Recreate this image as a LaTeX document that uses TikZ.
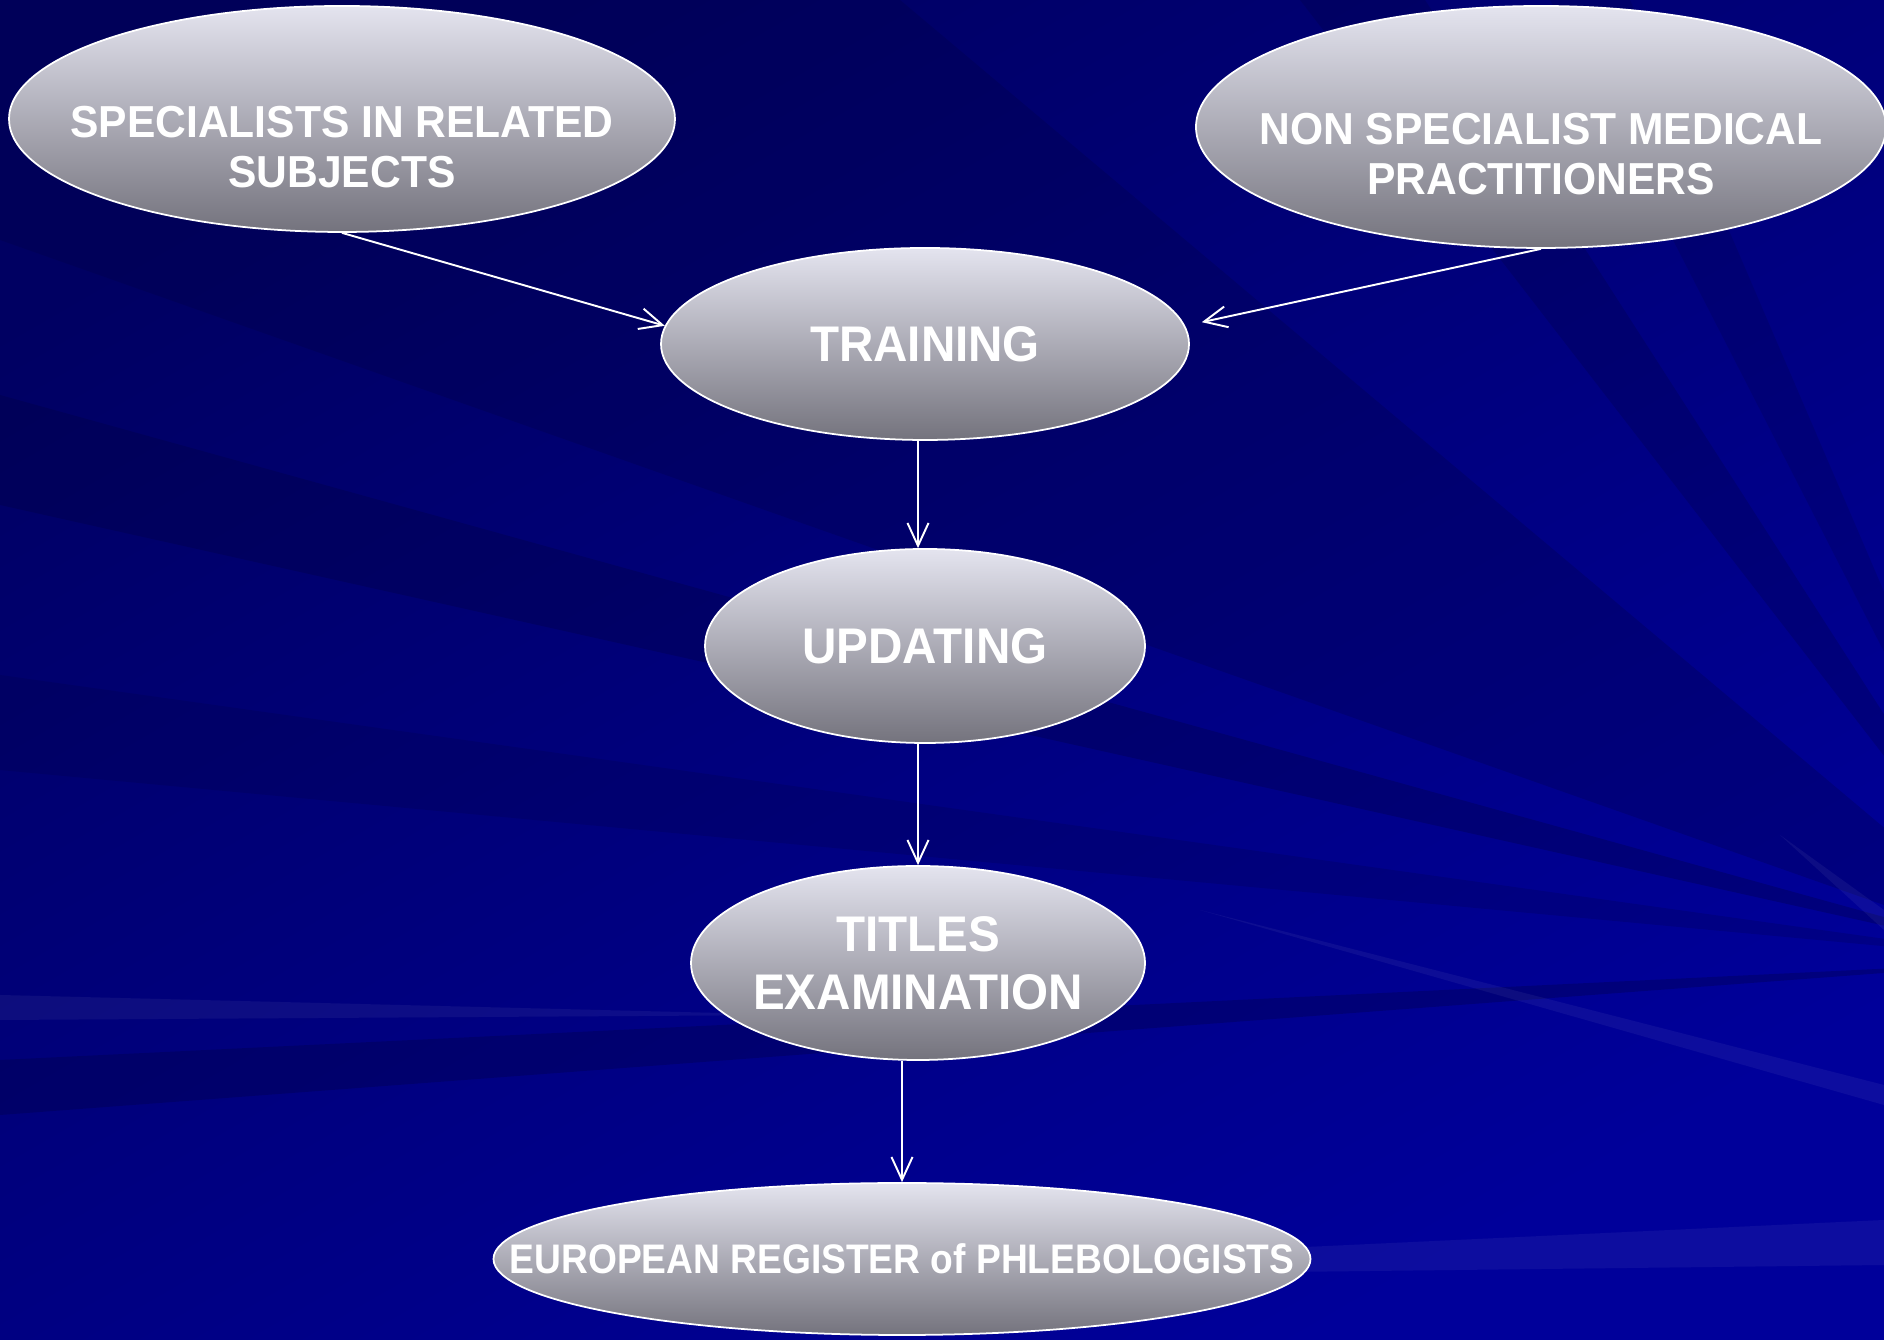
\documentclass[tikz,border=0pt]{standalone}
\usepackage{fontspec}
\setmainfont{Liberation Sans}[FakeStretch=0.95]
\newfontfamily\narrowfont{Liberation Sans}[FakeStretch=0.9]
\usetikzlibrary{shapes.geometric, arrows.meta}

\definecolor{bgdark}{HTML}{000062}
\definecolor{bglight}{HTML}{00009A}
\definecolor{bgnavy}{HTML}{000040}
\definecolor{ovaltop}{HTML}{E4E4EF}
\definecolor{ovalbot}{HTML}{74737D}

\tikzstyle{oval} = [ellipse, draw=white, line width=1pt, top color=ovaltop,
bottom color=ovalbot, text=white, align=center, inner xsep=-5cm, inner ysep=0pt]
\tikzstyle{bigtext} = [font=\fontsize{28.5}{33}\selectfont\bfseries]
\tikzstyle{midtext} = [font=\fontsize{25.5}{28.5}\selectfont\bfseries]
\tikzstyle{smalltext} = [font=\narrowfont\fontsize{23.5}{27}\selectfont\bfseries]
\tikzstyle{arrow} = [white, line width=1.1pt, ->,
>={Straight Barb[length=13pt,width=12pt]}]
\tikzstyle{streak} = [fill=white, opacity=0.05]
\tikzstyle{ray} = [fill=bgnavy, opacity=0.3]

\begin{document}
\begin{tikzpicture}

% background
\shade[shading=axis, top color=bgdark, bottom color=bglight, shading angle=30]
(0,0) rectangle (37.68,26.8);
\useasboundingbox (0,0) rectangle (37.68,26.8);
\coordinate (fan) at (40.85,7.58);
\fill[ray, opacity=0.25] (fan) -- (0,22.0) -- (0,26.8) -- (18,26.8) -- cycle;
\fill[ray] (fan) -- (0,18.9) -- (0,16.7) -- cycle;
\fill[ray, opacity=0.2] (fan) -- (0,13.3) -- (0,11.4) -- cycle;
\fill[ray] (fan) -- (0,5.6) -- (0,4.5) -- cycle;
\fill[ray, opacity=0.25] (fan) -- (26,26.8) -- (28.5,26.8) -- cycle;
\fill[ray, opacity=0.2] (fan) -- (31,26.8) -- (32.6,26.8) -- cycle;
\fill[streak] (0,6.9) -- (16,6.5) -- (0,6.4) -- cycle;
\fill[streak] (24,8.6) -- (37.68,5.1) -- (37.68,4.7) -- cycle;
\fill[streak] (35.6,10.1) -- (37.68,8.6) -- (37.68,8.2) -- cycle;
\fill[streak] (12,1.2) -- (37.68,2.4) -- (37.68,1.5) -- cycle;

% nodes
\node(spec)[oval, midtext, minimum width=13.32cm, minimum height=4.52cm]
at (6.84,24.42) {\raisebox{-0.67cm}[\height][\depth]{\begin{tabular}{@{}c@{}}
SPECIALISTS IN RELATED\\SUBJECTS\end{tabular}}};
\node(nonspec)[oval, midtext, minimum width=13.8cm, minimum height=4.84cm]
at (30.82,24.26) {\raisebox{-0.65cm}[\height][\depth]{\begin{tabular}{@{}c@{}}
NON SPECIALIST MEDICAL\\PRACTITIONERS\end{tabular}}};
\node(train)[oval, bigtext, minimum width=10.56cm, minimum height=3.84cm]
at (18.5,19.92) {TRAINING};
\node(upd)[oval, bigtext, minimum width=8.8cm, minimum height=3.88cm]
at (18.5,13.88) {UPDATING};
\node(titles)[oval, bigtext, minimum width=9.08cm, minimum height=3.88cm]
at (18.36,7.54) {TITLES\\EXAMINATION};
\node(eur)[oval, smalltext, minimum width=16.34cm, minimum height=3.04cm]
at (18.04,1.62) {EUROPEAN REGISTER of PHLEBOLOGISTS};

% connectors
\draw[arrow](spec.south) -- (train.176);
\draw[arrow, shorten >=0.34cm](nonspec.south) -- (train.4);
\draw[arrow]([xshift=-0.14cm]train.south) -- ([xshift=-0.14cm]upd.north);
\draw[arrow]([xshift=-0.14cm]upd.south) -- (titles.north);
\draw[arrow](titles.south -| eur.north) -- (eur.north);

\end{tikzpicture}
\end{document}
